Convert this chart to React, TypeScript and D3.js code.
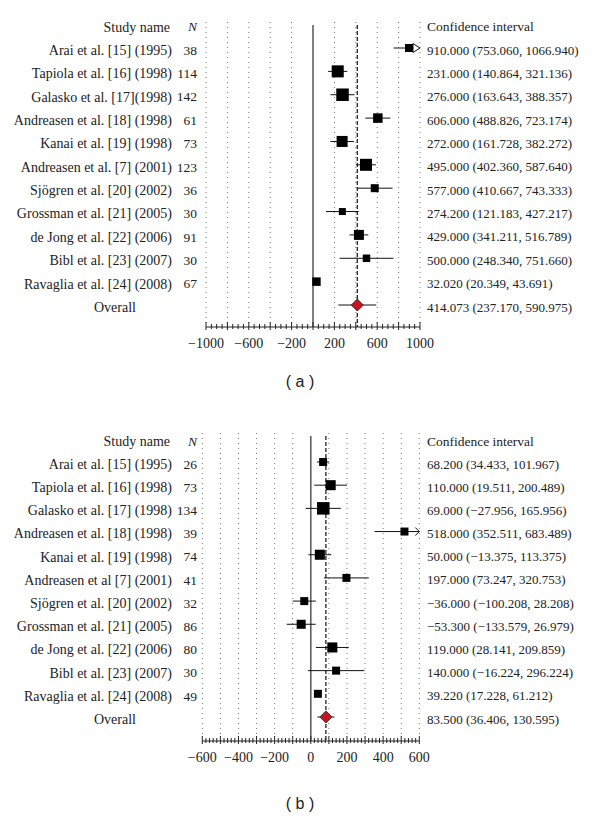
import React, { useEffect, useRef } from 'react';
import * as d3 from 'd3';

// ---- panel (a) data ----
const studiesA = [
  'Arai et al. [15] (1995)',
  'Tapiola et al. [16] (1998)',
  'Galasko et al. [17](1998)',
  'Andreasen et al. [18] (1998)',
  'Kanai et al. [19] (1998)',
  'Andreasen et al. [7] (2001)',
  'Sjögren et al. [20] (2002)',
  'Grossman et al. [21] (2005)',
  'de Jong et al. [22] (2006)',
  'Bibl et al. [23] (2007)',
  'Ravaglia et al. [24] (2008)',
];
const countsA = [38, 114, 142, 61, 73, 123, 36, 30, 91, 30, 67];
const estA = [910.0, 231.0, 276.0, 606.0, 272.0, 495.0, 577.0, 274.2, 429.0, 500.0, 32.02];
const lowA = [753.06, 140.864, 163.643, 488.826, 161.728, 402.36, 410.667, 121.183, 341.211, 248.34, 20.349];
const highA = [1066.94, 321.136, 388.357, 723.174, 382.272, 587.64, 743.333, 427.217, 516.789, 751.66, 43.691];
const weightsA = [6.0, 13.6, 14.7, 8.5, 11.4, 13.6, 6.0, 4.6, 9.4, 5.3, 6.8];
const overallA = { est: 414.073, low: 237.17, high: 590.975 };
const tickLabelsA = [-1000, -600, -200, 200, 600, 1000];

// ---- panel (b) data ----
const studiesB = [
  'Arai et al. [15] (1995)',
  'Tapiola et al. [16] (1998)',
  'Galasko et al. [17] (1998)',
  'Andreasen et al. [18] (1998)',
  'Kanai et al. [19] (1998)',
  'Andreasen et al  [7] (2001)',
  'Sjögren et al. [20] (2002)',
  'Grossman et al. [21] (2005)',
  'de Jong et al. [22] (2006)',
  'Bibl et al. [23] (2007)',
  'Ravaglia et al. [24] (2008)',
];
const countsB = [26, 73, 134, 39, 74, 41, 32, 86, 80, 30, 49];
const estB = [68.2, 110.0, 69.0, 518.0, 50.0, 197.0, -36.0, -53.3, 119.0, 140.0, 39.22];
const lowB = [34.433, 19.511, -27.956, 352.511, -13.375, 73.247, -100.208, -133.579, 28.141, -16.224, 17.228];
const highB = [101.967, 200.489, 165.956, 683.489, 113.375, 320.753, 28.208, 26.979, 209.859, 296.224, 61.212];
const weightsB = [6.9, 10.9, 16.9, 6.9, 10.9, 6.9, 6.9, 8.8, 10.9, 6.9, 6.9];
const overallB = { est: 83.5, low: 36.406, high: 130.595 };
const tickLabelsB = [-600, -400, -200, 0, 200, 400, 600];

const FONT = "'Liberation Serif', 'DejaVu Serif', Times, serif";

const fmt = (v: number) => v.toFixed(3).replace('-', '\u2212');

interface PanelProps {
  names: string[];
  counts: number[];
  est: number[];
  low: number[];
  high: number[];
  weights: number[];
  overall: { est: number; low: number; high: number };
  domain: [number, number];
  xRange: [number, number];
  rowRange: [number, number];
  gridTop: number;
  axisY: number;
  gridStep: number;
  minorStep: number;
  tickLabels: number[];
  arrow: 'triangle' | 'chevron';
  label: string;
  labelY: number;
}

const ForestPanel: React.FC<PanelProps> = (p) => {
  const gRef = useRef<SVGGElement | null>(null);

  useEffect(() => {
    if (!gRef.current) return;
    const g = d3.select(gRef.current);
    g.selectAll('*').remove();

    const x = d3.scaleLinear().domain(p.domain).range(p.xRange);
    const rows = d3.range(p.names.length + 1);
    const y = d3.scalePoint<number>().domain(rows).range(p.rowRange);
    const step = y.step();
    const headerY = p.rowRange[0] - step;
    const size = d3.scaleSqrt().domain([0, d3.max(p.weights)!]).range([0, 12.5]);

    const nameX = 172;
    const nX = 197;
    const ciX = 427;

    // dotted grid
    const gridVals = d3.range(p.domain[0], p.domain[1] + 1, p.gridStep).filter((v) => v !== 0);
    g.append('g')
      .selectAll('line')
      .data(gridVals)
      .enter()
      .append('line')
      .attr('x1', (d) => x(d))
      .attr('x2', (d) => x(d))
      .attr('y1', p.gridTop)
      .attr('y2', p.axisY - 3)
      .attr('stroke', '#777')
      .attr('stroke-width', 1)
      .attr('stroke-dasharray', '1,4');

    // zero line
    g.append('line')
      .attr('x1', x(0))
      .attr('x2', x(0))
      .attr('y1', p.gridTop + 3)
      .attr('y2', p.axisY)
      .attr('stroke', '#555')
      .attr('stroke-width', 1.5);

    // overall dashed line
    g.append('line')
      .attr('x1', x(p.overall.est))
      .attr('x2', x(p.overall.est))
      .attr('y1', p.gridTop + 3)
      .attr('y2', p.axisY)
      .attr('stroke', '#222')
      .attr('stroke-width', 1.3)
      .attr('stroke-dasharray', '4,2');

    // axis
    const axis = g.append('g');
    axis.append('line')
      .attr('x1', x(p.domain[0]))
      .attr('x2', x(p.domain[1]))
      .attr('y1', p.axisY)
      .attr('y2', p.axisY)
      .attr('stroke', '#222');
    const minor = d3.range(p.domain[0], p.domain[1] + 1, p.minorStep);
    axis.selectAll('line.tick')
      .data(minor)
      .enter()
      .append('line')
      .attr('class', 'tick')
      .attr('x1', (d) => x(d))
      .attr('x2', (d) => x(d))
      .attr('y1', (d) => p.axisY - (Math.abs(d % p.gridStep) < 1e-6 ? 5 : 3))
      .attr('y2', (d) => p.axisY + (Math.abs(d % p.gridStep) < 1e-6 ? 3 : 2))
      .attr('stroke', '#222')
      .attr('stroke-width', 1);
    axis.selectAll('text')
      .data(p.tickLabels)
      .enter()
      .append('text')
      .attr('x', (d) => x(d))
      .attr('y', p.axisY + 16)
      .attr('dy', '0.35em')
      .attr('text-anchor', 'middle')
      .attr('font-family', FONT)
      .attr('font-size', 14)
      .attr('fill', '#222')
      .text((d) => (d < 0 ? '\u2212' + Math.abs(d) : String(d)));

    // helper for row text
    const text = (tx: number, ty: number, s: string, anchor: string, fs = 13.5, italic = false) =>
      g.append('text')
        .attr('x', tx)
        .attr('y', ty + 2)
        .attr('dy', '0.35em')
        .attr('text-anchor', anchor)
        .attr('font-family', FONT)
        .attr('font-size', fs)
        .attr('font-style', italic ? 'italic' : 'normal')
        .attr('fill', '#222')
        .text(s);

    text(nameX - 2, headerY, 'Study name', 'end', 14);
    text(nX, headerY, 'N', 'end', 13.5, true);
    text(ciX, headerY, 'Confidence interval', 'start', 13.5);

    p.names.forEach((name, i) => {
      const ry = y(i)!;
      text(nameX, ry, name, 'end', 14);
      text(nX, ry, String(p.counts[i]), 'end', 13.5);
      text(ciX, ry, `${fmt(p.est[i])} (${fmt(p.low[i])}, ${fmt(p.high[i])})`, 'start', 13);

      const lo = Math.max(p.low[i], p.domain[0]);
      const hi = Math.min(p.high[i], p.domain[1]);
      g.append('line')
        .attr('x1', x(lo))
        .attr('x2', x(hi))
        .attr('y1', ry)
        .attr('y2', ry)
        .attr('stroke', '#111')
        .attr('stroke-width', 1);

      if (p.high[i] > p.domain[1]) {
        const ax = x(p.domain[1]);
        if (p.arrow === 'triangle') {
          g.append('path')
            .attr('d', `M${ax - 7},${ry - 4.5}L${ax},${ry}L${ax - 7},${ry + 4.5}Z`)
            .attr('fill', '#fff')
            .attr('stroke', '#111')
            .attr('stroke-width', 1);
        } else {
          g.append('path')
            .attr('d', `M${ax - 4},${ry - 4}L${ax},${ry}L${ax - 4},${ry + 4}`)
            .attr('fill', 'none')
            .attr('stroke', '#111')
            .attr('stroke-width', 1);
        }
      }

      const s = size(p.weights[i]);
      const cx = x(p.est[i]);
      const sx = p.high[i] > p.domain[1] ? Math.min(cx, x(p.domain[1]) - 7 - s / 2) : cx;
      g.append('rect')
        .attr('x', sx - s / 2)
        .attr('y', ry - s / 2)
        .attr('width', s)
        .attr('height', s)
        .attr('fill', '#000');
    });

    // overall row
    const oy = y(p.names.length)!;
    text(115, oy, 'Overall', 'middle', 14);
    text(ciX, oy, `${fmt(p.overall.est)} (${fmt(p.overall.low)}, ${fmt(p.overall.high)})`, 'start', 13);
    g.append('line')
      .attr('x1', x(p.overall.low))
      .attr('x2', x(p.overall.high))
      .attr('y1', oy)
      .attr('y2', oy)
      .attr('stroke', '#111');
    const ox = x(p.overall.est);
    g.append('path')
      .attr('d', `M${ox - 6},${oy}L${ox},${oy - 6}L${ox + 6},${oy}L${ox},${oy + 6}Z`)
      .attr('fill', '#c8141e')
      .attr('stroke', '#333')
      .attr('stroke-width', 1);

    // panel label
    g.append('text')
      .attr('x', 300)
      .attr('y', p.labelY)
      .attr('dy', '0.35em')
      .attr('text-anchor', 'middle')
      .attr('font-family', "'Liberation Sans', Arial, sans-serif")
      .attr('font-size', 16)
      .attr('fill', '#222')
      .text(p.label);
  }, [p]);

  return <g ref={gRef}></g>;
};

const App: React.FC = () => {
  useEffect(() => {
    document.body.style.margin = '0';
  }, []);

  return (
    <svg width={600} height={822} style={{ display: 'block', background: '#fff' }}>
      <ForestPanel
        names={studiesA}
        counts={countsA}
        est={estA}
        low={lowA}
        high={highA}
        weights={weightsA}
        overall={overallA}
        domain={[-1000, 1000]}
        xRange={[206, 420]}
        rowRange={[48, 305]}
        gridTop={22}
        axisY={327}
        gridStep={200}
        minorStep={50}
        tickLabels={tickLabelsA}
        arrow="triangle"
        label="( a )"
        labelY={381}
      />
      <ForestPanel
        names={studiesB}
        counts={countsB}
        est={estB}
        low={lowB}
        high={highB}
        weights={weightsB}
        overall={overallB}
        domain={[-600, 600]}
        xRange={[202.3, 419.3]}
        rowRange={[462, 717]}
        gridTop={433}
        axisY={741}
        gridStep={100}
        minorStep={20}
        tickLabels={tickLabelsB}
        arrow="chevron"
        label="( b )"
        labelY={803}
      />
    </svg>
  );
};

export default App;
